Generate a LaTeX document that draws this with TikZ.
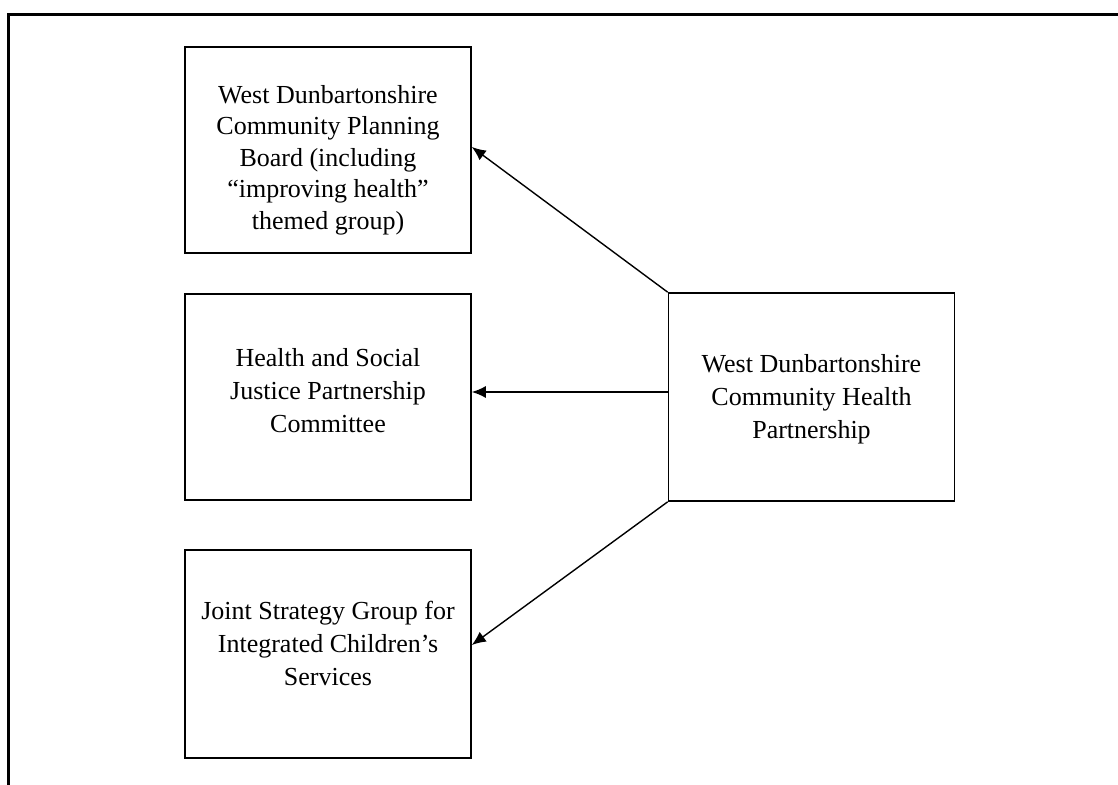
\documentclass[tikz,border=0pt]{standalone}
\usepackage{fontspec}
\setmainfont{Liberation Serif}
\usetikzlibrary{arrows.meta}
% text block, shifted up or down inside its box
\newcommand{\boxtext}[2]{\raisebox{#1}[0pt][0pt]{\begin{tabular}{@{}c@{}}#2\end{tabular}}}

\begin{document}
\begin{tikzpicture}[x=0.5pt,y=-0.5pt,
  box/.style={draw,line width=0.8pt,rectangle,
    minimum width=143pt,minimum height=103pt,inner sep=0pt,
    font=\fontsize{13pt}{15.75pt}\selectfont},
  wide/.style={font=\fontsize{13pt}{16.5pt}\selectfont},
  link/.style={line width=0.7pt,-{Latex[length=7pt,width=6pt]}}]
  \useasboundingbox (0,0) rectangle (1118,785);
  \draw[line width=1.5pt] (8,785) -- (8,15) -- (1118,15);
  \node[box] (b1) at (328,150) {\boxtext{-8pt}{West Dunbartonshire\\Community Planning\\Board (including\\“improving health”\\themed group)}};
  \node[box,wide] (b2) at (328,397) {\boxtext{-1pt}{Health and Social\\Justice Partnership\\Committee}};
  \node[box,wide,minimum height=104pt] (b3) at (328,654) {\boxtext{1pt}{Joint Strategy Group for\\Integrated Children’s\\Services}};
  \node[box,wide,minimum height=104pt] (chp) at (811.5,397) {\boxtext{-4pt}{West Dunbartonshire\\Community Health\\Partnership}};
  \draw[link] (chp.north west) -- ([yshift=1.5pt]b1.east);
  \draw[link] ([yshift=2.5pt]chp.west) -- ([yshift=2.5pt]b2.east);
  \draw[link] (chp.south west) -- ([yshift=4.5pt]b3.east);
\end{tikzpicture}
\end{document}
